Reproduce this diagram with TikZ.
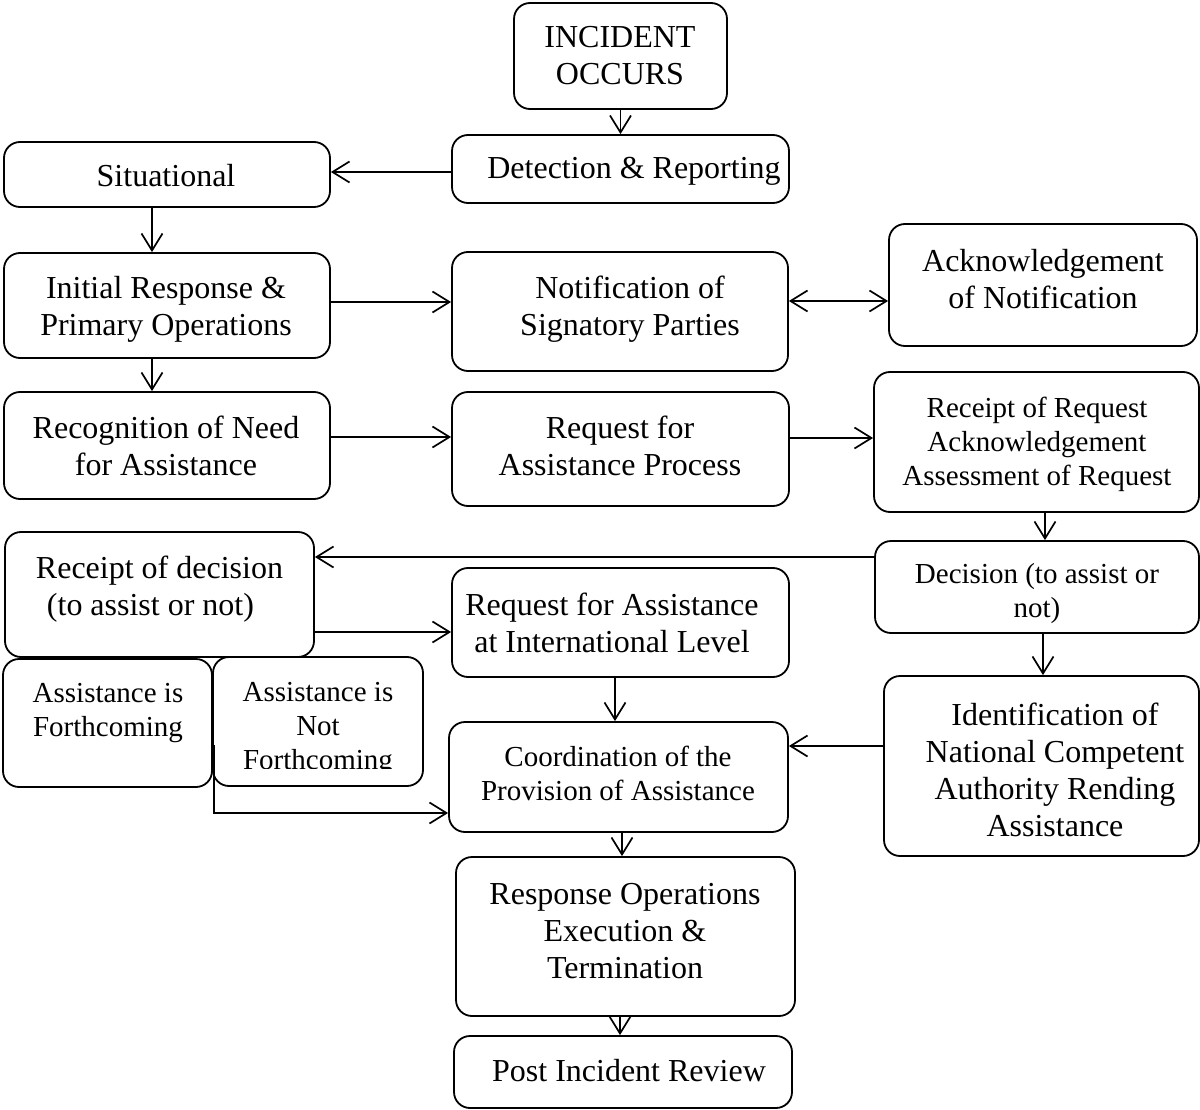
\documentclass[tikz,border=0pt]{standalone}
\usepackage{fontspec}
\setmainfont{Liberation Serif}
\usetikzlibrary{arrows.meta,calc}

\newcommand\flowbig{\fontsize{32}{37}\selectfont}
\newcommand\flowsmall{\fontsize{29}{34}\selectfont}

% rounded box given by its left, top, right and bottom edges
\newcommand\flowbox[5]{%
  \node[flowbox, minimum width={(#4-#2)*1pt}, minimum height={(#5-#3)*1pt}]
    (#1) at ({(#2+#4)/2},{(#3+#5)/2}) {};}

\tikzset{
  flowbox/.style={draw, line width=1.8pt, rounded corners=16pt, inner sep=0pt},
  flowtext/.style={align=center, inner sep=0pt, font=\flowbig},
  smalltext/.style={align=center, inner sep=0pt, font=\flowsmall},
  vtip/.tip={Straight Barb[length=17pt,width=21pt]},
  flowarrow/.style={line width=1.7pt, -vtip},
}

\begin{document}
\begin{tikzpicture}[x=1pt,y=-1pt]
\useasboundingbox (0,0) rectangle (1200,1110);

% boxes
\flowbox{inc}{514}{3}{727}{109}
\flowbox{det}{452}{135}{789}{203}
\flowbox{sit}{4}{142}{330}{207}
\flowbox{ini}{4}{253}{330}{358}
\flowbox{not}{452}{252}{788}{371}
\flowbox{ack}{889}{224}{1197}{346}
\flowbox{rec}{4}{392}{330}{499}
\flowbox{req}{452}{392}{789}{506}
\flowbox{rr}{874}{372}{1199}{512}
\flowbox{dec}{875}{541}{1199}{633}
\flowbox{rod}{5}{532}{314}{657}
\flowbox{ril}{452}{568}{789}{677}
\flowbox{af}{3}{659}{212}{787}
\flowbox{anf}{213}{657}{423}{786}
\flowbox{coo}{449}{722}{788}{832}
\flowbox{idn}{884}{676}{1199}{856}
\flowbox{rsp}{456}{857}{795}{1016}
\flowbox{pir}{454}{1036}{792}{1108}

% box texts
\node[flowtext] (inc-t) at (620,56) {INCIDENT\\OCCURS};
\node[flowtext] (det-t) at (634,171) {Detection \& Reporting};
\node[flowtext] (sit-t) at (166,176) {Situational};
\node[flowtext] (ini-t) at (166,309) {Initial Response \&\\Primary Operations};
\node[flowtext] (not-t) at (630,309) {Notification of\\Signatory Parties};
\node[flowtext] (ack-t) at (1043,279) {Acknowledgement\\of Notification};
\node[flowtext] (rec-t) at (166,446) {Recognition of Need\\for Assistance};
\node[flowtext] (req-t) at (620,446) {Request for\\Assistance Process};
\node[smalltext] (rr-t) at (1037,444) {Receipt of Request\\Acknowledgement\\Assessment of Request};
\node[smalltext] (dec-t) at (1037,594) {Decision (to assist or\\not)};
\node[flowtext] (rod-t) at (159.5,589) {Receipt of decision\\(to assist or not)\hspace*{18pt}};
\node[flowtext] (ril-t) at (612,623) {Request for Assistance\\at International Level};
\node[smalltext] (af-t) at (108,713) {Assistance is\\Forthcoming};
\begin{scope}
  \clip (213,657) rectangle (423,768);
  \node[smalltext] (anf-t) at (318,729) {Assistance is\\Not\\Forthcoming};
\end{scope}
\node[smalltext] (coo-t) at (618,773) {Coordination of the\\Provision of Assistance};
\node[flowtext] (idn-t) at (1055,769.5) {Identification of\\National Competent\\Authority Rending\\Assistance};
\node[flowtext] (rsp-t) at (625,931) {Response Operations\\Execution \&\\Termination};
\node[flowtext] (pir-t) at (629,1071) {Post Incident Review};

% connectors
\draw[flowarrow] (inc.south) -- (inc.south |- det.north);
\draw[flowarrow] ($(det.west)+(0,3)$) coordinate (c2) -- (c2 -| sit.east);
\draw[flowarrow] ($(sit.south)+(-15,0)$) coordinate (c3) -- (c3 |- ini.north);
\draw[flowarrow] ($(ini.east)+(0,-3.5)$) coordinate (c4) -- (c4 -| not.west);
\draw[line width=1.7pt, vtip-vtip] ($(not.east)+(0,-10.5)$) coordinate (c5) -- (c5 -| ack.west);
\draw[flowarrow] ($(ini.south)+(-15,0)$) coordinate (c6) -- (c6 |- rec.north);
\draw[flowarrow] ($(rec.east)+(0,-8.5)$) coordinate (c7) -- (c7 -| req.west);
\draw[flowarrow] ($(req.east)+(0,-11)$) coordinate (c8) -- (c8 -| rr.west);
\draw[flowarrow] ($(rr.south)+(8.5,0)$) coordinate (c9) -- (c9 |- dec.north);
\draw[flowarrow] ($(dec.west)+(0,-30)$) coordinate (c10) -- (c10 -| rod.east);
\draw[flowarrow] ($(rod.east)+(0,37.5)$) coordinate (c11) -- (c11 -| ril.west);
\draw[flowarrow] ($(dec.south)+(6,0)$) coordinate (c12) -- (c12 |- idn.north);
\draw[flowarrow] ($(ril.south)+(-5.5,0)$) coordinate (c13) -- (c13 |- coo.north);
\draw[flowarrow] ($(idn.west)+(0,-20)$) coordinate (c14) -- (c14 -| coo.east);
\draw[flowarrow] ($(af.east)+(1,22)$) |- ($(coo.west)+(0,36)$);
\draw[flowarrow] ($(coo.south)+(3.5,0)$) coordinate (c16) -- (c16 |- rsp.north);
\draw[flowarrow] ($(rsp.south)+(-5.5,0)$) coordinate (c17) -- (c17 |- pir.north);
\end{tikzpicture}
\end{document}
